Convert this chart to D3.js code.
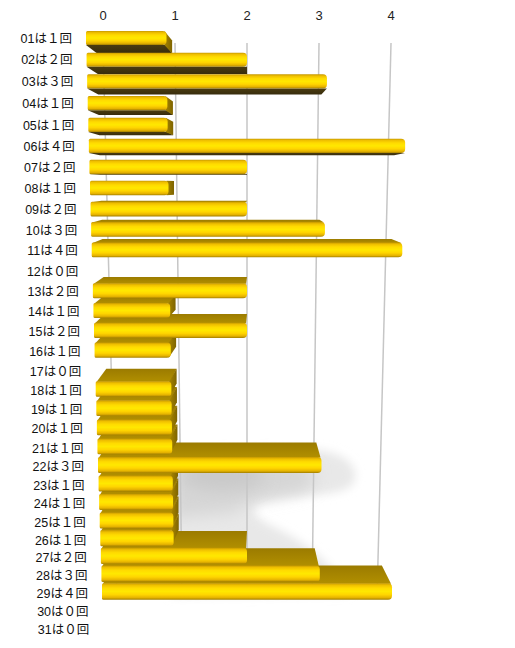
<!DOCTYPE html>
<html><head><meta charset="utf-8">
<script src="https://cdn.jsdelivr.net/npm/d3@7"></script>
<style>html,body{margin:0;padding:0;background:#fff;}svg{display:block}</style>
</head><body>
<svg id="c" width="515" height="648"></svg>
<script>
// ---- data ----
const days = ["01","02","03","04","05","06","07","08","09","10","11","12","13","14","15","16","17","18","19","20","21","22","23","24","25","26","27","28","29","30","31"];
const counts = [1,2,3,1,1,4,2,1,2,3,4,0,2,1,2,1,0,1,1,1,1,3,1,1,1,1,2,3,4,0,0];
const tickValues = [0,1,2,3,4];
const fullDigits = ["０","１","２","３","４","５","６","７","８","９"];
const labels = days.map((d,i)=> d + "は" + String(counts[i]).split("").map(c=>fullDigits[+c]).join("") + "回");

// ---- geometry (perspective approximation) ----
const svg = d3.select("#c");
const VX = 247;                       // horizontal vanishing x (value 2)
const rowY = d3.scaleLinear().domain([0,4,8,12,16,20,24,30]).range([38,125.1,209.6,291.6,371,447.9,522.2,629]);
const frontUnit = d3.scaleLinear().domain([0,28]).range([80.5,72.5]);
const barH = d3.scaleLinear().domain([0,28]).range([14,16.5]);
const depth = d3.scaleLinear().domain([38,188,389,600]).range([9,0,-13,-18]);
const gridUnit = d3.scaleLinear().domain([43,560]).range([72,65.5]);
const frontX = i => { const s = frontUnit(i); return d3.scaleLinear().domain([0,4]).range([VX-2*s, VX+2*s]); };
const backX  = i => { const s = frontUnit(i)*0.93; return d3.scaleLinear().domain([0,4]).range([VX-2*s, VX+2*s]); };
const FONT = "'Liberation Sans','Noto Sans CJK JP',sans-serif";

// ---- defs ----
const defs = svg.append("defs");
const fg = defs.append("linearGradient").attr("id","front").attr("x1",0).attr("y1",0).attr("x2",0).attr("y2",1);
[[0,"#c59800"],[0.12,"#efbf00"],[0.3,"#ffdb00"],[0.5,"#ffe800"],[0.7,"#ffd500"],[0.88,"#e6b300"],[1,"#a27f00"]]
  .forEach(([o,c])=>fg.append("stop").attr("offset",o).attr("stop-color",c));
const tg = defs.append("linearGradient").attr("id","top").attr("x1",0).attr("y1",0).attr("x2",0).attr("y2",1);
[[0,"#9b7b00"],[1,"#b18f00"]].forEach(([o,c])=>tg.append("stop").attr("offset",o).attr("stop-color",c));
const ug = defs.append("linearGradient").attr("id","under").attr("x1",0).attr("y1",0).attr("x2",0).attr("y2",1);
[[0,"#4a3c10"],[1,"#382c0c"]].forEach(([o,c])=>ug.append("stop").attr("offset",o).attr("stop-color",c));
const rg = defs.append("linearGradient").attr("id","side").attr("x1",0).attr("y1",0).attr("x2",1).attr("y2",0);
[[0,"#a68400"],[1,"#7e6400"]].forEach(([o,c])=>rg.append("stop").attr("offset",o).attr("stop-color",c));
defs.append("filter").attr("id","blur").attr("x","-50%").attr("y","-50%").attr("width","200%").attr("height","200%")
  .append("feGaussianBlur").attr("stdDeviation",5);
defs.append("filter").attr("id","blur2").attr("x","-50%").attr("y","-50%").attr("width","200%").attr("height","200%")
  .append("feGaussianBlur").attr("stdDeviation",8);

// ---- wall shadow ----
const sh = svg.append("g");
sh.append("path").attr("d","M172,452 L300,449 C345,449 360,466 354,482 C348,497 300,494 268,500 C246,505 250,516 276,528 C304,542 332,562 350,594 L172,596 Z")
  .attr("fill","#e8e8e8").attr("filter","url(#blur)");
sh.append("path").attr("d","M172,462 L290,462 C320,466 322,486 300,492 C270,498 245,500 235,512 L172,518 Z")
  .attr("fill","#d6d6d6").attr("filter","url(#blur2)");
sh.append("ellipse").attr("cx",222).attr("cy",476).attr("rx",42).attr("ry",14).attr("fill","#c9c9c9").attr("filter","url(#blur2)");

// ---- gridlines ----
const gTop = 43, gBot = 586;
svg.append("g").selectAll("line").data(tickValues).join("line")
  .attr("x1", v => VX + gridUnit(gTop)*(v-2)).attr("y1", gTop)
  .attr("x2", v => VX + gridUnit(gBot)*(v-2)).attr("y2", gBot)
  .attr("stroke","#c6c6c6").attr("stroke-width",1.5);

// tick labels
svg.append("g").selectAll("text").data(tickValues).join("text")
  .attr("x", v => VX + gridUnit(gTop)*(v-2)).attr("y", 20)
  .attr("text-anchor","middle").attr("font-family",FONT)
  .attr("font-size",13).attr("fill","#222").text(v=>v);

// ---- row labels ----
svg.append("g").selectAll("text").data(labels).join("text")
  .attr("x",(d,i)=>frontX(i)(0)-14).attr("y",(d,i)=>rowY(i)+4.6)
  .attr("text-anchor","end").attr("font-family",FONT)
  .attr("font-size",12.5).attr("fill","#111").text(d=>d);

// ---- bars ----
function frontPath(x0,x1,y0,y1){
  const rl=1.5, rr=Math.min(4,(x1-x0)/2);
  return `M${x0+rl},${y0} L${x1-rr},${y0} Q${x1},${y0} ${x1},${y0+rr} L${x1},${y1-rr} Q${x1},${y1} ${x1-rr},${y1} L${x0+rl},${y1} Q${x0},${y1} ${x0},${y1-rl} L${x0},${y0+rl} Q${x0},${y0} ${x0+rl},${y0} Z`;
}
const rows = days.map((d,i)=>({i, v:counts[i], yc: rowY(i) - 2*(i/28)}))
  .filter(r=>r.v>0)
  .sort((a,b)=>Math.abs(b.yc-188)-Math.abs(a.yc-188));
const bars = svg.append("g");
rows.forEach(r=>{
  const fx = frontX(r.i), bx = backX(r.i);
  const h = barH(r.i);
  const y0 = r.yc - h/2, y1 = r.yc + h/2;
  const d0 = depth(y0), d1 = depth(y1);
  const xf0 = fx(0), xf1 = fx(r.v), xb0 = bx(0), xb1 = bx(r.v);
  const g = bars.append("g");
  if (d1 > 0) {
    g.append("path").attr("d",`M${xf0},${y1} L${xf1},${y1} L${xb1},${y1+d1} L${xb0},${y1+d1} Z`).attr("fill","url(#under)");
  }
  if (d0 < 0) {
    g.append("path").attr("d",`M${xf0+1},${y0+0.5} L${xf1-1},${y0+0.5} L${xb1},${y0+d0} L${xb0},${y0+d0} Z`).attr("fill","url(#top)");
  }
  if (xb1 > xf1) {
    g.append("path").attr("d",`M${xf1-2},${y0} L${xb1},${y0+d0} L${xb1},${y1+d1} L${xf1-2},${y1} Z`).attr("fill","url(#side)");
  }
  g.append("path").attr("d",frontPath(xf0,xf1,y0,y1)).attr("fill","url(#front)");
});
</script>
</body></html>
